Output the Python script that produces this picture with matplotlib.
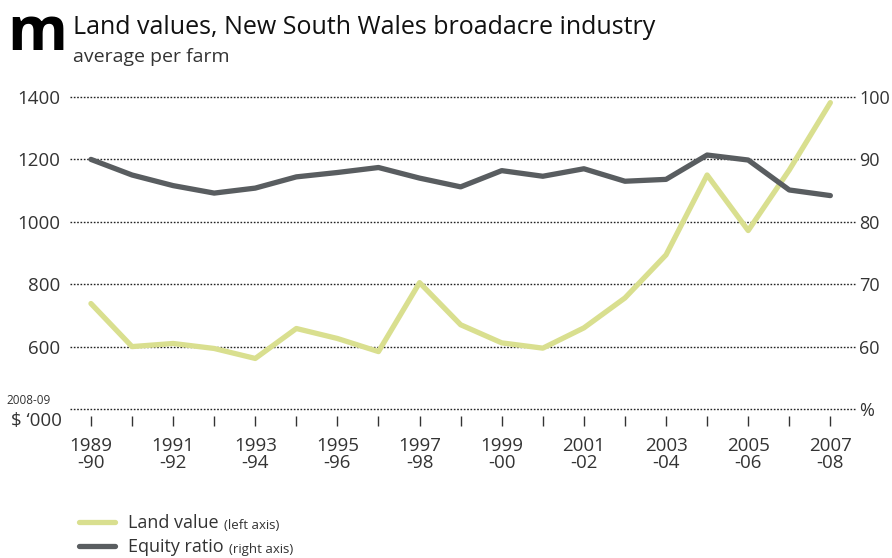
import matplotlib.pyplot as plt

plt.rcParams['font.family'] = ['Open Sans', 'DejaVu Sans']

years = ['1989\n-90', '1990\n-91', '1991\n-92', '1992\n-93', '1993\n-94', '1994\n-95',
         '1995\n-96', '1996\n-97', '1997\n-98', '1998\n-99', '1999\n-00', '2000\n-01',
         '2001\n-02', '2002\n-03', '2003\n-04', '2004\n-05', '2005\n-06', '2006\n-07',
         '2007\n-08']
land_value = [738, 600, 610, 594, 562, 658, 626, 584, 805, 670,
              612, 595, 660, 756, 894, 1150, 972, 1166, 1382]
equity_ratio = [90.0, 87.5, 85.8, 84.6, 85.4, 87.2, 87.9, 88.7, 87.0, 85.6,
                88.2, 87.3, 88.5, 86.5, 86.8, 90.7, 89.9, 85.1, 84.2]
left_ticks = [400, 600, 800, 1000, 1200, 1400]
right_ticks = [50, 60, 70, 80, 90, 100]

land_col = '#d9df8f'
equity_col = '#595d60'
text_col = '#333333'

fig = plt.figure(figsize=(8.92, 5.58), dpi=100)
W, H = 892, 558
ax = fig.add_axes([70 / W, 1 - 409 / H, 785 / W, 312 / H])
ax2 = ax.twinx()

x = list(range(len(years)))

# dotted gridlines, drawn on the left scale
for v in left_ticks:
    ax.axhline(v, color='#222222', lw=1.0, ls=(0, (1.2, 1.2)), clip_on=False, zorder=1)

ax.plot(x, land_value, color=land_col, lw=3.8, solid_capstyle='round',
        solid_joinstyle='round', clip_on=False, zorder=3, label='Land value')
ax2.plot(x, equity_ratio, color=equity_col, lw=3.8, solid_capstyle='round',
         solid_joinstyle='round', clip_on=False, zorder=3, label='Equity ratio')

ax.set_xlim(-0.51, 18.6)
ax.set_ylim(400, 1400)
ax2.set_ylim(50, 100)

for a in (ax, ax2):
    for s in a.spines.values():
        s.set_visible(False)
# year ticks sit a little below the bottom gridline
ax.spines['bottom'].set_position(('outward', 5))

ax.set_xticks(x)
ax.set_xticklabels([lab if i % 2 == 0 else '' for i, lab in enumerate(years)],
                   fontsize=13.5, color=text_col, linespacing=0.95)
ax.tick_params(axis='x', length=7, width=1, color=text_col, pad=8, direction='out')

ax.set_yticks(left_ticks)
ax.set_yticklabels([str(v) if v > 400 else '' for v in left_ticks], fontsize=13.5, color=text_col)
ax.tick_params(axis='y', length=0, pad=7)

ax2.set_yticks(right_ticks)
ax2.set_yticklabels([str(v) if v > 50 else '%' for v in right_ticks], fontsize=13, color=text_col)
ax2.tick_params(axis='y', length=0, pad=3)

# units under the left scale
fig.text(51 / W, 1 - 401 / H, '2008-09', fontsize=8.5, color=text_col, ha='right', va='center')
fig.text(62 / W, 1 - 421 / H, "$ \u2018000", fontsize=13.5, color=text_col, ha='right', va='center')

# heading
fig.text(7 / W, 1 - 50 / H, 'm', fontsize=44, fontweight='bold', color='black',
         ha='left', va='baseline')
fig.text(73 / W, 1 - 34 / H, 'Land values, New South Wales broadacre industry',
         fontsize=18, color='#111111', ha='left', va='baseline')
fig.text(73 / W, 1 - 62 / H, 'average per farm', fontsize=14, color='#333333',
         ha='left', va='baseline')

h1 = ax.get_lines()[-1]
h2 = ax2.get_lines()[-1]
leg = fig.legend([h1, h2], ['Land value', 'Equity ratio'], loc='upper left',
                 bbox_to_anchor=(70 / W, 1 - 505 / H), frameon=False, fontsize=13,
                 handlelength=2.0, handletextpad=0.7, labelspacing=0.35, borderpad=0)
for t in leg.get_texts():
    t.set_color(text_col)

# small axis notes after each legend label
fig.canvas.draw()
for t, note in zip(leg.get_texts(), ['(left axis)', '(right axis)']):
    ax.annotate(note, xy=(1, 0), xycoords=t, xytext=(4, 0), textcoords='offset points',
                fontsize=9.5, color=text_col, va='bottom', ha='left', annotation_clip=False)

fig.savefig('out.png', dpi=100)
